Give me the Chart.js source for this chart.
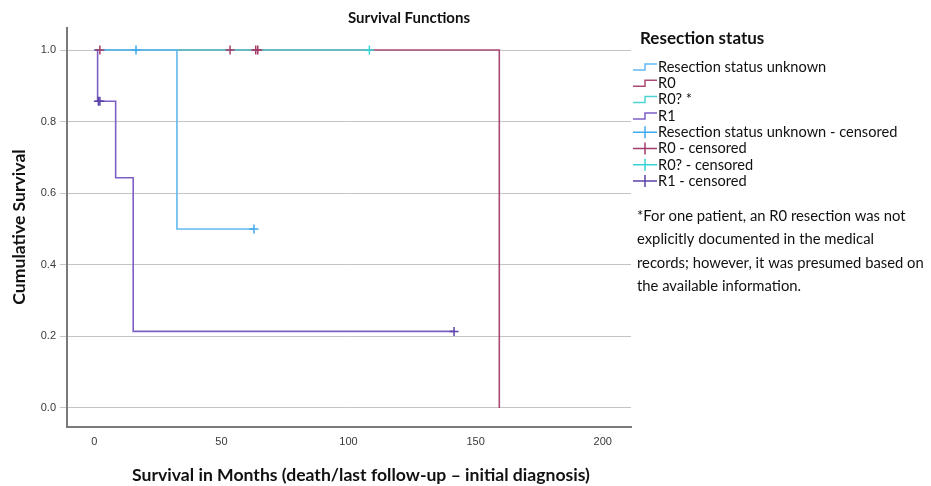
<!DOCTYPE html>
<html>
<head>
<meta charset="utf-8">
<title>Survival Functions</title>
<script src="https://cdn.jsdelivr.net/npm/chart.js@4.4.1/dist/chart.umd.min.js"></script>
<style>
  html, body { margin: 0; padding: 0; background: #ffffff; }
  canvas { display: block; }
</style>
</head>
<body>
<canvas id="km" width="931" height="486"></canvas>
<script>
// Kaplan–Meier estimates by resection status (time in months)
const groupNames = ['Resection status unknown', 'R0', 'R0? *', 'R1'];
const censorNames = ['Resection status unknown - censored', 'R0 - censored', 'R0? - censored', 'R1 - censored'];

const unknownTimes = [0, 32.5, 62.8];
const unknownSurvival = [1, 0.5, 0.5];
const unknownCensorTimes = [16.4, 62.8];
const unknownCensorSurvival = [1, 0.5];

const r0Times = [0, 159.3];
const r0Survival = [1, 0];
const r0CensorTimes = [2.2, 53.4, 63.5, 64.3];
const r0CensorSurvival = [1, 1, 1, 1];

const r0qTimes = [0, 108.2];
const r0qSurvival = [1, 1];
const r0qCensorTimes = [108.2];
const r0qCensorSurvival = [1];

const r1Times = [0, 1.3, 8.4, 15.3, 141.5];
const r1Survival = [1, 0.857, 0.643, 0.214, 0.214];
const r1CensorTimes = [1.6, 2.2, 141.5];
const r1CensorSurvival = [0.857, 0.857, 0.214];

const xTicks = [0, 50, 100, 150, 200];
const yTicks = [0, 0.2, 0.4, 0.6, 0.8, 1.0];

const chartTitle = 'Survival Functions';
const xTitle = 'Survival in Months (death/last follow-up \u2013 initial diagnosis)';
const yTitle = 'Cumulative Survival';
const legendTitle = 'Resection status';
const footnote = [
  '*For one patient, an R0 resection was not',
  'explicitly documented in the medical',
  'records; however, it was presumed based on',
  'the available information.'
];

const lineColors = ['#62b9ef', '#a94a74', '#4fd2d2', '#7d5fc6'];
const crossColors = ['#3fa9ee', '#a23c69', '#38d3d3', '#5c42a9'];

const toPoints = (xs, ys) => xs.map((x, i) => ({ x: x, y: ys[i] }));

const curves = [
  toPoints(unknownTimes, unknownSurvival),
  toPoints(r0Times, r0Survival),
  toPoints(r0qTimes, r0qSurvival),
  toPoints(r1Times, r1Survival)
];
const censors = [
  toPoints(unknownCensorTimes, unknownCensorSurvival),
  toPoints(r0CensorTimes, r0CensorSurvival),
  toPoints(r0qCensorTimes, r0qCensorSurvival),
  toPoints(r1CensorTimes, r1CensorSurvival)
];

// drawing order: R0 underneath, then R0?, unknown, R1
const lineOrder = [2, 5, 3, 1];

const datasets = [];
curves.forEach((pts, i) => {
  datasets.push({
    type: 'line',
    label: groupNames[i],
    data: pts,
    stepped: 'before',   // horizontal run, then vertical drop at each event
    borderColor: lineColors[i],
    borderWidth: 1.6,
    pointRadius: 0,
    fill: false,
    order: lineOrder[i]
  });
});
censors.forEach((pts, i) => {
  datasets.push({
    type: 'scatter',
    label: censorNames[i],
    data: pts,
    pointStyle: 'cross',
    pointRadius: 4.5,
    pointBorderWidth: 1.5,
    borderColor: crossColors[i],
    backgroundColor: crossColors[i],
    showLine: false,
    order: 0
  });
});

const FONT = 'Lato, "Open Sans", sans-serif';

// Title, axis titles, legend and footnote
const textPlugin = {
  id: 'kmText',
  afterDraw(chart) {
    const ctx = chart.ctx;
    ctx.save();
    ctx.fillStyle = '#111';
    ctx.textBaseline = 'middle';

    ctx.textAlign = 'center';
    ctx.font = 'bold 15px ' + FONT;
    ctx.fillText(chartTitle, 409, 18);

    ctx.font = 'bold 17.6px ' + FONT;
    ctx.fillText(xTitle, 361, 475);

    ctx.save();
    ctx.translate(19, 227);
    ctx.rotate(-Math.PI / 2);
    ctx.fillText(yTitle, 0, 0);
    ctx.restore();

    // legend
    ctx.textAlign = 'left';
    ctx.font = 'bold 17px ' + FONT;
    ctx.fillText(legendTitle, 640, 39);

    ctx.font = '14.6px ' + FONT;
    const rowY0 = 67, rowStep = 16.3;
    const labels = groupNames.concat(censorNames);
    labels.forEach((label, k) => {
      const y = rowY0 + k * rowStep;
      const ci = k % 4;
      ctx.lineWidth = 1.5;
      if (k < 4) {
        ctx.strokeStyle = lineColors[ci];
        ctx.beginPath();
        ctx.moveTo(633, y + 3);
        ctx.lineTo(645, y + 3);
        ctx.lineTo(645, y - 3);
        ctx.lineTo(657, y - 3);
        ctx.stroke();
      } else {
        ctx.strokeStyle = crossColors[ci];
        ctx.beginPath();
        ctx.moveTo(633, y);
        ctx.lineTo(657, y);
        ctx.moveTo(645, y - 6);
        ctx.lineTo(645, y + 6);
        ctx.stroke();
      }
      ctx.fillText(label, 658, y);
    });

    // footnote
    ctx.font = '14.8px ' + FONT;
    footnote.forEach((line, k) => {
      ctx.fillText(line, 637, 216 + k * 23.4);
    });
    ctx.restore();
  }
};

new Chart(document.getElementById('km'), {
  data: { datasets: datasets },
  options: {
    responsive: false,
    animation: false,
    devicePixelRatio: 1,
    layout: { padding: { left: 0, top: 28, right: 300, bottom: 0 } },
    plugins: {
      legend: { display: false },
      tooltip: { enabled: false },
      title: { display: false }
    },
    scales: {
      x: {
        type: 'linear',
        min: -10.74,
        max: 211.1,
        afterBuildTicks: (s) => { s.ticks = xTicks.map(v => ({ value: v })); },
        afterFit: (s) => { s.height = 59; },
        grid: { display: false, drawTicks: false, tickLength: 0 },
        border: { display: true, color: '#7a7a7a', width: 2 },
        ticks: {
          padding: 8,
          color: '#3a3a3a',
          font: { family: '"Liberation Sans", Arial, sans-serif', size: 11 },
          callback: (v) => String(v)
        }
      },
      y: {
        type: 'linear',
        min: -0.0531,
        max: 1.0615,
        afterBuildTicks: (s) => { s.ticks = yTicks.map(v => ({ value: v })); },
        afterFit: (s) => { s.width = 67; },
        grid: { color: '#c4c4c4', lineWidth: 1, drawTicks: true, tickLength: 7 },
        border: { display: true, color: '#7a7a7a', width: 2 },
        ticks: {
          padding: 4,
          color: '#3a3a3a',
          font: { family: '"Liberation Sans", Arial, sans-serif', size: 11 },
          callback: (v) => Number(v).toFixed(1)
        }
      }
    }
  },
  plugins: [textPlugin]
});
</script>
</body>
</html>
